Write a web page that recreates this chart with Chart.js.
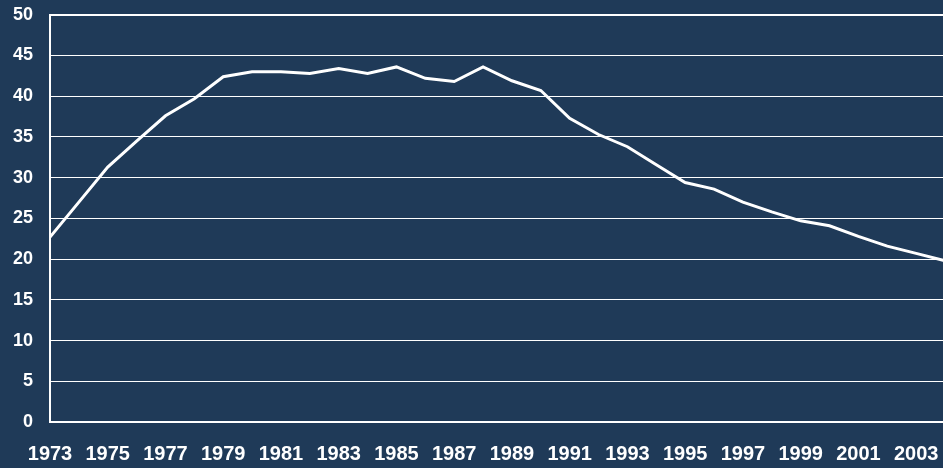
<!DOCTYPE html>
<html>
<head>
<meta charset="utf-8">
<script src="https://cdn.jsdelivr.net/npm/chart.js@4"></script>
<style>
  html, body { margin: 0; padding: 0; background: #1f3a58; overflow: hidden; }
  #wrap { width: 943px; height: 468px; overflow: hidden; position: relative; }
  #box { width: 965px; height: 481px; position: absolute; left: 0; top: -13px; }
</style>
</head>
<body>
<div id="wrap"><div id="box"><canvas id="myChart"></canvas></div></div>
<script>
// years along the x axis
const years = [1973, 1974, 1975, 1976, 1977, 1978, 1979, 1980, 1981, 1982,
  1983, 1984, 1985, 1986, 1987, 1988, 1989, 1990, 1991, 1992,
  1993, 1994, 1995, 1996, 1997, 1998, 1999, 2000, 2001, 2002, 2003, 2004];
// values
const values = [22.7, 27.0, 31.3, 34.5, 37.6, 39.7, 42.4, 43.0, 43.0, 42.8,
  43.4, 42.8, 43.6, 42.2, 41.8, 43.6, 41.9, 40.7, 37.3, 35.3,
  33.8, 31.6, 29.4, 28.6, 27.0, 25.8, 24.7, 24.1, 22.8, 21.6, 20.7, 19.8];
const yTicks = [0, 5, 10, 15, 20, 25, 30, 35, 40, 45, 50];

const bg = '#1f3a58';
const white = '#ffffff';

const bgPlugin = {
  id: 'bg',
  beforeDraw: (chart) => {
    const ctx = chart.ctx;
    ctx.save();
    ctx.fillStyle = bg;
    ctx.fillRect(0, 0, chart.width, chart.height);
    ctx.restore();
  }
};

const myChartRef = document.getElementById('myChart').getContext('2d');
new Chart(myChartRef, {
  type: 'line',
  data: {
    labels: years.map(String),
    datasets: [{
      data: values,
      borderColor: white,
      borderWidth: 3,
      pointRadius: 0,
      tension: 0,
      fill: false
    }]
  },
  options: {
    responsive: true,
    maintainAspectRatio: false,
    animation: false,
    layout: { padding: { top: 2, right: 10, left: 0, bottom: 0 } },
    plugins: { legend: { display: false }, tooltip: { enabled: false } },
    scales: {
      x: {
        offset: false,
        grid: { drawOnChartArea: false, drawTicks: false },
        border: { display: true, color: white, width: 2 },
        ticks: {
          autoSkip: false,
          maxRotation: 0,
          color: white,
          padding: 20,
          font: { family: 'Liberation Sans, Arial, sans-serif', size: 20, weight: 'bold' },
          callback: function (val, i) { return i % 2 === 0 ? years[i] : ''; }
        },
        afterFit: (scale) => { scale.height = 46; }
      },
      y: {
        min: 0,
        max: 50,
        afterBuildTicks: (scale) => { scale.ticks = yTicks.map(v => ({ value: v })); },
        grid: {
          color: white,
          lineWidth: (c) => (c.tick && c.tick.value === 50 ? 2 : 1),
          drawTicks: false
        },
        border: { display: true, color: white, width: 2 },
        ticks: {
          color: white,
          padding: 17,
          font: { family: 'Liberation Sans, Arial, sans-serif', size: 18, weight: 'bold' }
        },
        afterFit: (scale) => { scale.width = 50; }
      }
    }
  },
  plugins: [bgPlugin]
});
</script>
</body>
</html>
